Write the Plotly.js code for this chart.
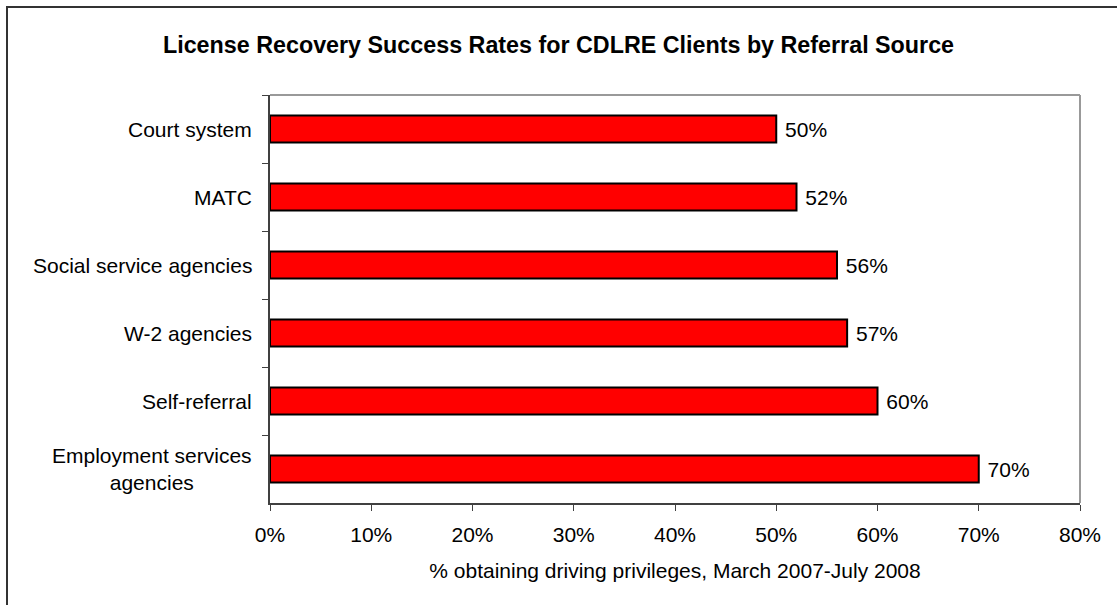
<!DOCTYPE html>
<html>
<head>
<meta charset="utf-8">
<script src="https://cdn.plot.ly/plotly-3.0.1.min.js"></script>
<style>
html,body{margin:0;padding:0;background:#fff;}
#chart{width:1117px;height:605px;}
</style>
</head>
<body>
<div id="chart"></div>
<script>
const categories = ["Court system", "MATC", "Social service agencies", "W-2 agencies", "Self-referral", "Employment services<br>agencies"];
const values = [0.50, 0.52, 0.56, 0.57, 0.60, 0.70];
const xTickVals = [0, 0.1, 0.2, 0.3, 0.4, 0.5, 0.6, 0.7, 0.8];

const W = 1117, H = 605;
const M = {l: 270, r: 37, t: 95, b: 102};
const pw = W - M.l - M.r, ph = H - M.t - M.b;
const px = v => (v - M.l) / pw;
const py = v => 1 - (v - M.t) / ph;

const font = "Arial, 'Liberation Sans', sans-serif";
const FS = 21;

const trace = {
  type: "bar",
  orientation: "h",
  y: categories,
  x: values,
  width: 0.4,
  marker: {color: "#FF0000", line: {color: "#000000", width: 2}},
  text: values.map(v => "\u00a0" + Math.round(v * 100) + "%"),
  textposition: "outside",
  cliponaxis: false,
  textfont: {family: font, size: FS, color: "#000"},
  hoverinfo: "skip"
};

const catAnnotations = categories.map(c => ({
  xref: "paper", yref: "y",
  x: px(254), y: c,
  xanchor: "right", yanchor: "middle",
  align: "center",
  text: c,
  showarrow: false,
  font: {family: font, size: FS, color: "#000"}
}));

const layout = {
  width: W, height: H,
  margin: M,
  paper_bgcolor: "#fff",
  plot_bgcolor: "#fff",
  showlegend: false,
  font: {family: font, size: FS, color: "#000"},
  title: {
    text: "<b>License Recovery Success Rates for CDLRE Clients by Referral Source</b>",
    font: {family: font, size: 23.3, color: "#000"},
    x: 0.5, xref: "container", xanchor: "center",
    y: 1 - 45 / H, yref: "container", yanchor: "middle"
  },
  xaxis: {
    range: [0, 0.8],
    tickvals: xTickVals,
    tickformat: ".0%",
    showgrid: false, zeroline: false,
    showline: true, linecolor: "#404040", linewidth: 2,
    ticks: "outside", ticklen: 6, tickcolor: "#404040", tickwidth: 1,
    ticklabelstandoff: 6,
    tickfont: {family: font, size: FS, color: "#000"},
    title: {text: "% obtaining driving privileges, March 2007-July 2008", font: {family: font, size: FS, color: "#000"}, standoff: 18}
  },
  yaxis: {
    type: "category",
    autorange: "reversed",
    showgrid: false, zeroline: false,
    showline: true, linecolor: "#404040", linewidth: 2,
    ticks: "outside", tickson: "boundaries", ticklen: 6, tickcolor: "#404040", tickwidth: 1,
    showticklabels: false
  },
  annotations: catAnnotations,
  shapes: [
    {type: "line", xref: "paper", yref: "paper", x0: 0, x1: 1, y0: 1, y1: 1, line: {color: "#999999", width: 2}},
    {type: "line", xref: "paper", yref: "paper", x0: 1, x1: 1, y0: 0, y1: 1, line: {color: "#999999", width: 2}},
    {type: "rect", xref: "paper", yref: "paper", x0: px(7), x1: px(1130), y0: py(7), y1: py(620), line: {color: "#333333", width: 2}, fillcolor: "rgba(0,0,0,0)", layer: "below"}
  ]
};

Plotly.newPlot("chart", [trace], layout, {staticPlot: true, displayModeBar: false});
</script>
</body>
</html>
